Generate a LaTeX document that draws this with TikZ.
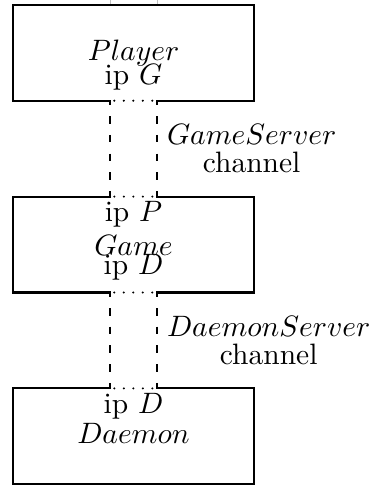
\documentclass[tikz,border=0pt]{standalone}
\usetikzlibrary{calc}
\begin{document}
\begin{tikzpicture}[x=0.339pt,y=-0.339pt,
  boxline/.style={line width=0.68pt},
  chanline/.style={line width=0.68pt, dash pattern=on 2.54pt off 3.8pt, dash phase=2.54pt},
  portline/.style={line width=0.78pt, line cap=round, dash pattern=on 0pt off 3.22pt},
  faint/.style={draw=black!25, line width=0.25pt},
  boxname/.style={inner sep=0pt},
  lbl/.style={inner sep=0pt, anchor=base},
  chanlbl/.style={anchor=west, align=center, inner xsep=3.2pt, inner ysep=3.33pt}]
\useasboundingbox (0,0) rectangle (370,485);

% corner points of the three boxes and the two channels
\coordinate (L1) at (13.3,4.8);    \coordinate (R1) at (254,4.8);
\coordinate (L2) at (13.3,100.7);  \coordinate (R2) at (254,100.7);
\coordinate (L3) at (13.3,196.6);  \coordinate (R3) at (254,196.6);
\coordinate (L4) at (13.3,292.5);  \coordinate (R4) at (254,292.5);
\coordinate (L5) at (13.3,388.4);  \coordinate (R5) at (254,388.4);
\coordinate (L6) at (13.3,484.3);  \coordinate (R6) at (254,484.3);

\coordinate (a2) at (110,100.7);   \coordinate (b2) at (157,100.7);
\coordinate (a3) at (110,196.6);   \coordinate (b3) at (157,196.6);
\coordinate (a4) at (110,292.5);   \coordinate (b4) at (157,292.5);
\coordinate (a5) at (110,388.4);   \coordinate (b5) at (157,388.4);

% hook ends where the solid outline turns into a channel
\coordinate (a2h) at (110,105);    \coordinate (b2h) at (157,105);
\coordinate (a3h) at (110,192.3);  \coordinate (b3h) at (157,192.3);
\coordinate (a4h) at (110,296.8);  \coordinate (b4h) at (157,296.8);
\coordinate (a5h) at (110,384.1);  \coordinate (b5h) at (157,384.1);

% stubs above the top box
\coordinate (a0) at (110,0);  \coordinate (a1) at (110,4.8);
\coordinate (b0) at (157,0);  \coordinate (b1) at (157,4.8);
\draw[faint] (a0) -- (a1);
\draw[faint] (b0) -- (b1);

% box outlines
\draw[boxline] (a2h) -- (a2) -- (L2) -- (L1) -- (R1) -- (R2) -- (b2) -- (b2h);
\draw[boxline] (a3h) -- (a3) -- (L3) -- (L4) -- (a4) -- (a4h);
\draw[boxline] (b3h) -- (b3) -- (R3) -- (R4) -- (b4) -- (b4h);
\draw[boxline] (a5h) -- (a5) -- (L5) -- (L6) -- (R6) -- (R5) -- (b5) -- (b5h);

% ports on the box edges
\draw[portline, shorten <=1.46pt, shorten >=1.35pt] (a2) -- (b2);
\draw[portline, shorten <=1.46pt, shorten >=1.35pt] (a3) -- (b3);
\draw[portline, shorten <=1.46pt, shorten >=1.35pt] (a4) -- (b4);
\draw[portline, shorten <=1.46pt, shorten >=1.35pt] (a5) -- (b5);

% channels
\draw[chanline] (a2h) -- (a3h);
\draw[chanline] (b2h) -- (b3h);
\draw[chanline] (a4h) -- (a5h);
\draw[chanline] (b4h) -- (b5h);

% box names and ports
\node[boxname] (player) at (133.5,52.75) {$Player$};
\node[lbl] (ipG) at (133.5,85) {ip $G$};
\node[lbl] (ipP) at (133.5,221.7) {ip $P$};
\node[lbl] (game) at (133.5,256) {$Game$};
\node[lbl] (ipDg) at (133.5,275) {ip $D$};
\node[lbl] (ipDd) at (133.5,413.5) {ip $D$};
\node[lbl] (daemon) at (133.5,443) {$Daemon$};

% channel labels
\node[chanlbl] (gschan) at ($(b2)!0.5!(b3)$) {$GameServer$\\[-2.5pt]channel};
\node[chanlbl] (dschan) at ($(b4)!0.5!(b5)$) {$DaemonServer$\\[-2.5pt]channel};
\end{tikzpicture}
\end{document}
